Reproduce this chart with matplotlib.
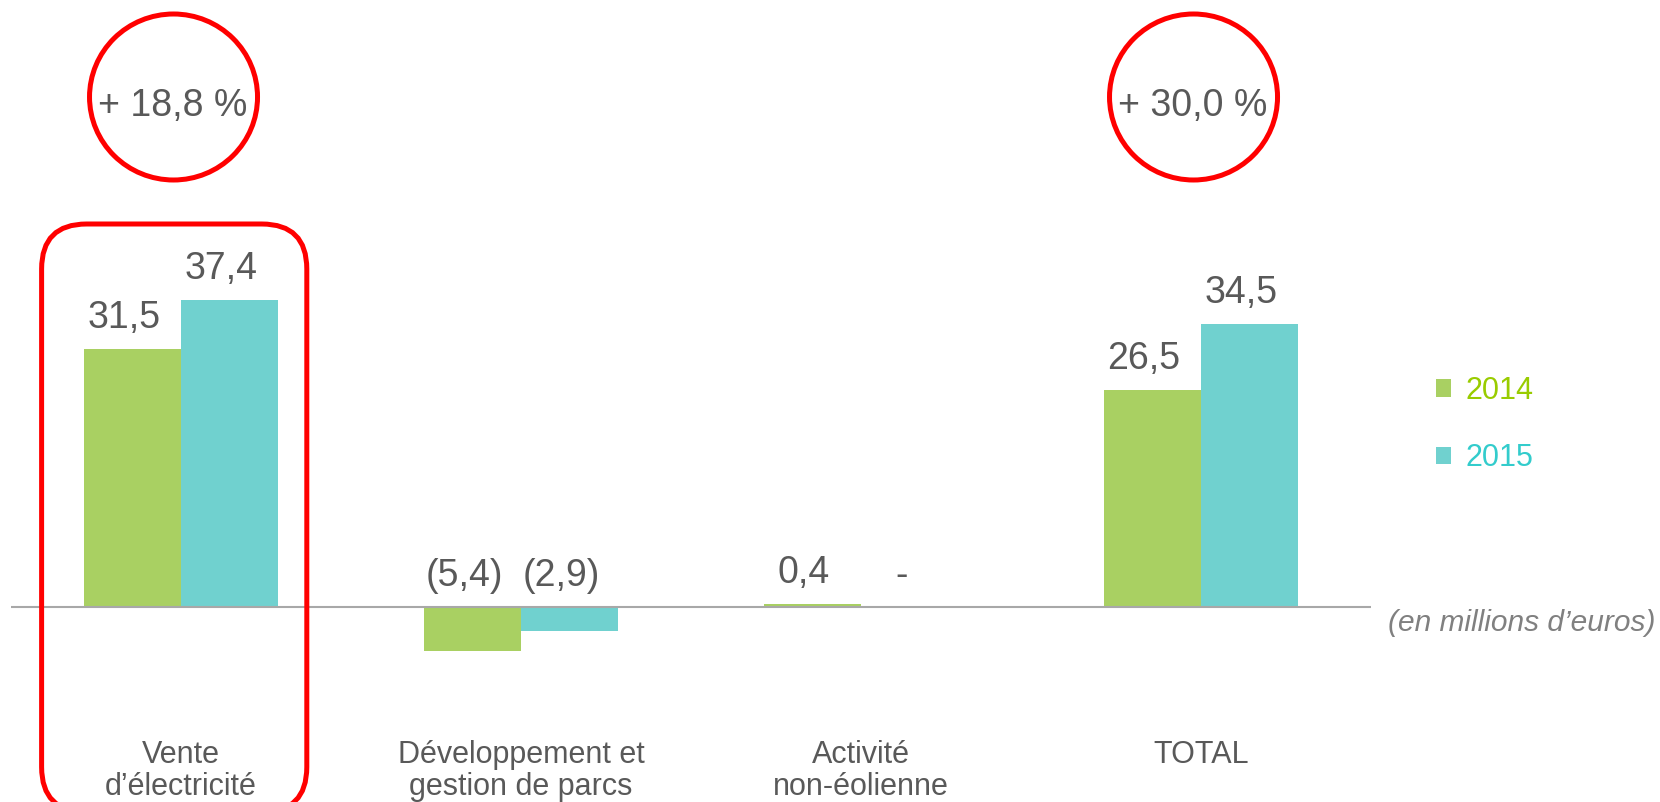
import matplotlib
matplotlib.use("Agg")
import matplotlib.pyplot as plt
from matplotlib.patches import Ellipse, FancyBboxPatch
import matplotlib.transforms as mtransforms

plt.rcParams['font.family'] = ['Liberation Sans', 'DejaVu Sans']

# ---- data ----
categories = ["Vente\nd\u2019électricité", "Développement et\ngestion de parcs",
              "Activité\nnon-éolienne", "TOTAL"]
years = ["2014", "2015"]
values_2014 = [31.5, -5.4, 0.4, 26.5]
values_2015 = [37.4, -2.9, 0.0, 34.5]
growth_labels = ["+ 18,8 %", None, None, "+ 30,0 %"]
unit_note = "(en millions d\u2019euros)"

bar_colors = ["#A9D062", "#70D1CF"]
legend_text_colors = ["#99CC00", "#33CCCC"]
text_gray = "#595959"


def fmt(v):
    if v == 0:
        return "-"
    s = f"{abs(v):.1f}".replace(".", ",")
    return f"({s})" if v < 0 else s


W, H, DPI = 1660, 802, 100
fig = plt.figure(figsize=(W / DPI, H / DPI), dpi=DPI)

ax_left_px, ax_right_px = 11, 1371
ax_bottom_px = 730        # pixel row (from top) of axes bottom
zero_px = 607              # pixel row of zero line
px_per_unit = 8.2

ax = fig.add_axes([ax_left_px / W, (H - ax_bottom_px) / H,
                   (ax_right_px - ax_left_px) / W, ax_bottom_px / H])
ax.set_xlim(-0.5, len(categories) - 0.5)
ax.set_ylim((zero_px - ax_bottom_px) / px_per_unit, zero_px / px_per_unit)
for s in ax.spines.values():
    s.set_visible(False)
ax.set_yticks([])

x = list(range(len(categories)))
w = 0.286
b1 = ax.bar([i - w / 2 for i in x], values_2014, width=w, color=bar_colors[0],
            label=years[0], zorder=2)
b2 = ax.bar([i + w / 2 for i in x], values_2015, width=w, color=bar_colors[1],
            label=years[1], zorder=2)
ax.axhline(0, color="#a8a8a8", lw=1.5, zorder=3)

ax.set_xticks(x)
ax.set_xticklabels(categories, fontsize=22, color=text_gray, linespacing=1.12)
ax.tick_params(axis="x", length=0, pad=7)

# value labels
for bars, vals in ((b1, values_2014), (b2, values_2015)):
    for rect, v in zip(bars, vals):
        cx = rect.get_x() + rect.get_width() / 2
        ax.annotate(fmt(v), xy=(cx, max(v, 0)), xytext=(-6, 15),
                    textcoords="offset points", ha="center", va="baseline",
                    fontsize=27, color=text_gray, annotation_clip=False)

# growth circles
trans_inch = fig.dpi_scale_trans
blend = mtransforms.blended_transform_factory(ax.transData, fig.transFigure)
for i, g in enumerate(growth_labels):
    if g is None:
        continue
    ax.text(i - 0.024, (H - 116) / H, g, transform=blend, ha="center",
            va="baseline", fontsize=27, color=text_gray)
    cx_px = ax.transData.transform((i - 0.022, 0))[0]
    e = Ellipse((cx_px / DPI, (H - 97) / DPI), 1.68, 1.66, transform=trans_inch,
                fill=False, edgecolor="#FF0000", lw=3.6)
    fig.patches.append(e)

# highlight rounded rectangle around first category
x0 = ax.transData.transform((0 - 0.41, 0))[0]
x1 = ax.transData.transform((0 + 0.37, 0))[0]
rect = FancyBboxPatch((x0 / DPI, (H - 812) / DPI), (x1 - x0) / DPI, (812 - 224) / DPI,
                      boxstyle="round,pad=0,rounding_size=0.45",
                      transform=trans_inch, fill=False, edgecolor="#FF0000",
                      lw=3.6, clip_on=False)
fig.patches.append(rect)

# legend
leg = fig.legend(handles=[b1, b2], labels=years, loc="upper left",
                 bbox_to_anchor=(1436 / W, (H - 376) / H), frameon=False,
                 fontsize=22, labelcolor=legend_text_colors,
                 handlelength=0.5, handleheight=0.5, handletextpad=0.45,
                 labelspacing=1.22, borderpad=0, borderaxespad=0)

fig.text(1388 / W, (H - 631) / H, unit_note, fontsize=21.5, style="italic",
         color="#808080", ha="left", va="baseline")

fig.savefig("out.png", dpi=DPI)
